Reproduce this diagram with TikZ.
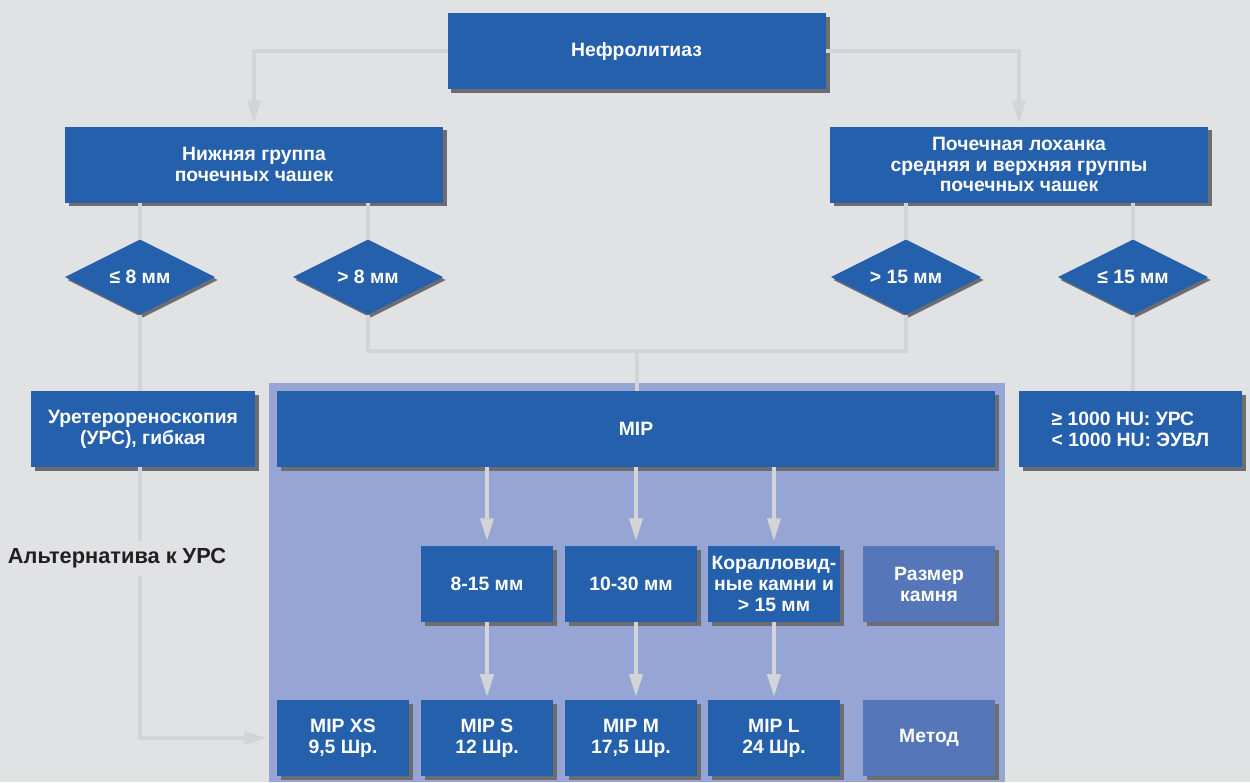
\documentclass[tikz,border=0pt]{standalone}
\usepackage{fontspec}
\setmainfont{Liberation Sans}
\usetikzlibrary{shapes.geometric,shadows,arrows.meta}

\definecolor{pagegrey}{HTML}{E1E2E4}
\definecolor{mainblue}{HTML}{2560AC}
\definecolor{softblue}{HTML}{5676BA}
\definecolor{panelblue}{HTML}{97A5D4}
\definecolor{shadowgrey}{HTML}{6D6D71}
\definecolor{wiregrey}{HTML}{D3D4D7}
\definecolor{inkdark}{HTML}{231F20}

% one unit = one pixel of the 1250 x 782 canvas
\def\pxu{0.02cm}

\tikzset{
  base/.style={font=\bfseries\fontsize{11}{11.9}\selectfont, text=white,
    align=center, inner sep=0pt, outer sep=0pt},
  boxshadow/.style={drop shadow={shadow xshift=2.27pt, shadow yshift=-2.27pt,
    fill=shadowgrey, opacity=1}},
  stepbox/.style={base, rectangle, fill=mainblue, boxshadow},
  labelbox/.style={stepbox, fill=softblue},
  choice/.style={base, diamond, aspect=2, fill=mainblue,
    minimum width=150*\pxu, minimum height=75*\pxu,
    drop shadow={shadow xshift=1.5pt, shadow yshift=-1.7pt,
      fill=shadowgrey, opacity=1}},
  wide/.style={minimum width=378*\pxu, minimum height=76*\pxu},
  small/.style={minimum width=132*\pxu, minimum height=76*\pxu},
  wire/.style={draw=wiregrey, line width=2.27pt},
  arrow/.style={wire, -{Triangle[length=13pt,width=7.4pt]}},
}

\begin{document}
\begin{tikzpicture}[x=0.02cm, y=-0.02cm]
\useasboundingbox (0,0) rectangle (1250,782);
\fill[pagegrey] (0,0) rectangle (1250,782);
% panel behind the MIP section
\fill[panelblue] (269,383) rectangle (1005,782);

% top level
\node[stepbox, wide] (top) at (636.5,51) {Нефролитиаз};
\node[stepbox, wide] (lower) at (254,164.5) {Нижняя группа\\почечных чашек};
\node[stepbox, wide] (pelvis) at (1019,164.5)
  {Почечная лоханка\\средняя и верхняя группы\\почечных чашек};

% size decisions
\node[choice] (d1) at (140,277) {≤ 8 мм};
\node[choice] (d2) at (368,277) {> 8 мм};
\node[choice] (d3) at (906,277) {> 15 мм};
\node[choice] (d4) at (1133,277) {≤ 15 мм};

% treatments
\node[stepbox, minimum width=224*\pxu, minimum height=76*\pxu] (urs) at (143,429)
  {Уретерореноскопия\\(УРС), гибкая};
\node[stepbox, minimum width=718*\pxu, minimum height=76*\pxu] (mip) at (636,429) {MIP};
\node[stepbox, minimum width=223*\pxu, minimum height=76*\pxu, align=left] (hu) at (1130.5,429)
  {≥ 1000 HU: УРС\\< 1000 HU: ЭУВЛ};

% stone size row
\node[stepbox, small] (r815) at (487,584) {8-15 мм};
\node[stepbox, small] (r1030) at (631,584) {10-30 мм};
\node[stepbox, small] (rcoral) at (774,584) {Коралловид-\\ные камни и\\> 15 мм};
\node[labelbox, small] (rsize) at (929,584) {Размер\\камня};

% method row
\node[stepbox, small] (mxs) at (343,738) {MIP XS\\9,5 Шр.};
\node[stepbox, small] (ms) at (487,738) {MIP S\\12 Шр.};
\node[stepbox, small] (mm) at (631,738) {MIP M\\17,5 Шр.};
\node[stepbox, small] (ml) at (774,738) {MIP L\\24 Шр.};
\node[labelbox, small] (mmethod) at (929,738) {Метод};

\node[base, text=inkdark, font=\bfseries\fontsize{12.4}{14}\selectfont,
  anchor=west, minimum height=35*\pxu] (alt) at (8,558) {Альтернатива к УРС};

% connectors
\draw[arrow, shorten >=1.7pt] (top.west) -| (lower.north);
\draw[arrow, shorten >=1.7pt] (top.east) -| (pelvis.north);
\draw[wire] (d1.north |- lower.south) -- (d1.north);
\draw[wire] (d2.north |- lower.south) -- (d2.north);
\draw[wire] (d3.north |- pelvis.south) -- (d3.north);
\draw[wire] (d4.north |- pelvis.south) -- (d4.north);
\draw[wire] (d1.south) -- (d1.south |- urs.north);
\coordinate (join) at (637,351);
\draw[wire] (d2.south) |- (join) -| (d3.south);
\draw[wire] (join) -- (join |- mip.north);
\draw[wire] (d4.south) -- (d4.south |- hu.north);
\draw[wire] (d1.south |- urs.south) -- (d1.south |- alt.north);
\draw[arrow, shorten >=5.7pt] (d1.south |- alt.south) |- (mxs.west);

\draw[arrow, shorten >=2.8pt] (mip.south -| r815.north) -- (r815.north);
\draw[arrow, shorten >=2.8pt] (mip.south) -- (mip.south |- r1030.north);
\draw[arrow, shorten >=2.8pt] (mip.south -| rcoral.north) -- (rcoral.north);
\draw[arrow, shorten >=1.7pt] (r815.south) -- (ms.north);
\draw[arrow, shorten >=1.7pt] (mip.south |- r1030.south) -- (mip.south |- mm.north);
\draw[arrow, shorten >=1.7pt] (rcoral.south) -- (ml.north);
\end{tikzpicture}
\end{document}
